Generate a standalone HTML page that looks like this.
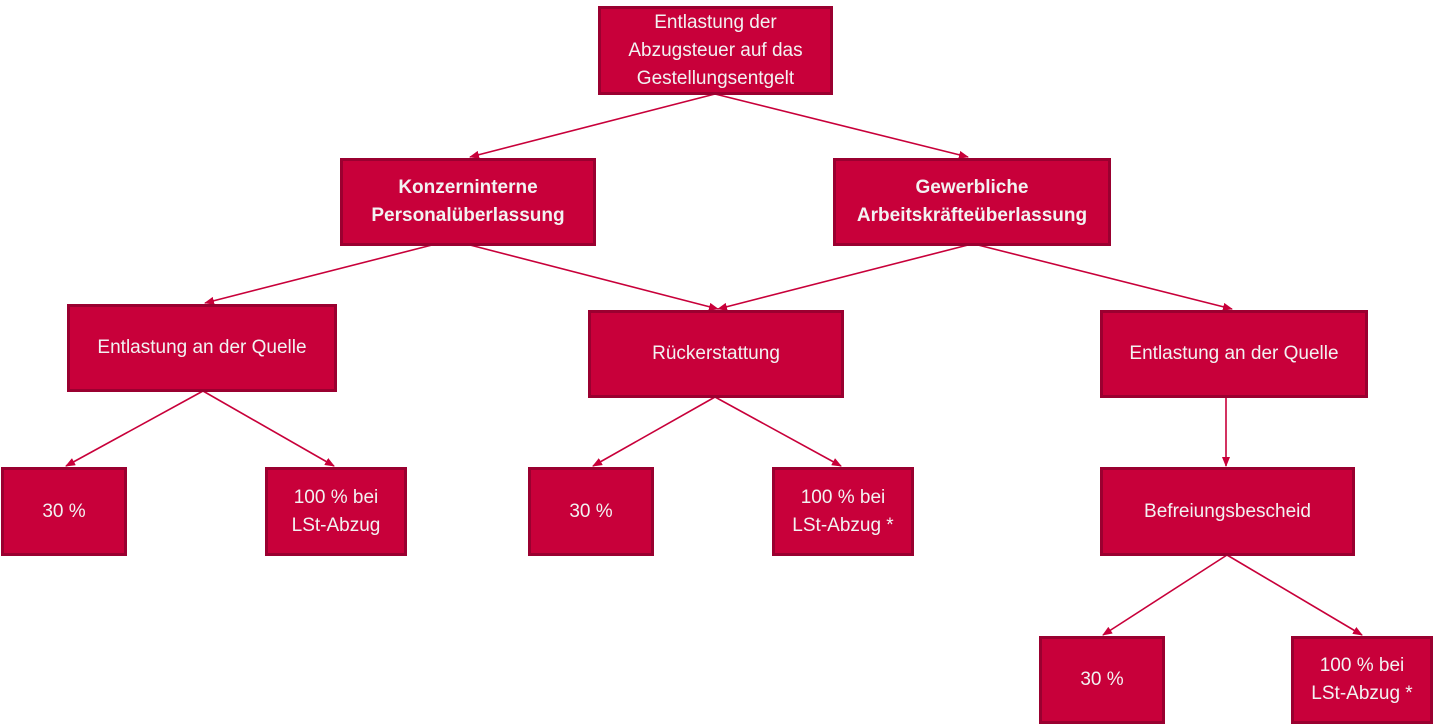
<!DOCTYPE html>
<html><head><meta charset="utf-8"><style>
body{margin:0;width:1433px;height:725px;background:#fff;position:relative;overflow:hidden;font-family:"Liberation Sans",sans-serif}
.b{position:absolute;box-sizing:border-box;background:#C8003A;border:3px solid #9A0030;color:#f2f2f2;display:flex;align-items:center;justify-content:center;text-align:center;font-size:19px;line-height:28px}
.bold{font-weight:bold}
svg{position:absolute;left:0;top:0}
</style></head><body>
<svg width="1433" height="725">
<defs><marker id="a" markerWidth="10" markerHeight="8" refX="9" refY="4" orient="auto" markerUnits="userSpaceOnUse"><path d="M0,0 L10,4 L0,8 z" fill="#C8003A"/></marker></defs>
<g stroke="#C8003A" stroke-width="1.6" marker-end="url(#a)">
<line x1="715" y1="94" x2="470" y2="157"/>
<line x1="715" y1="94" x2="968" y2="157"/>
<line x1="432" y1="245" x2="205" y2="303"/>
<line x1="470" y1="245" x2="718" y2="309"/>
<line x1="968" y1="245" x2="718" y2="309"/>
<line x1="978" y1="245" x2="1232" y2="309"/>
<line x1="203" y1="391" x2="66" y2="466"/>
<line x1="203" y1="391" x2="334" y2="466"/>
<line x1="715" y1="397" x2="593" y2="466"/>
<line x1="715" y1="397" x2="841" y2="466"/>
<line x1="1226" y1="397" x2="1226" y2="466"/>
<line x1="1227" y1="555" x2="1103" y2="635"/>
<line x1="1227" y1="555" x2="1362" y2="635"/>
</g></svg>
<div class="b" style="left:598px;top:6px;width:235px;height:89px">Entlastung der<br>Abzugsteuer auf das<br>Gestellungsentgelt</div>
<div class="b bold" style="left:340px;top:158px;width:256px;height:88px">Konzerninterne<br>Personalüberlassung</div>
<div class="b bold" style="left:833px;top:158px;width:278px;height:88px">Gewerbliche<br>Arbeitskräfteüberlassung</div>
<div class="b" style="left:67px;top:304px;width:270px;height:88px">Entlastung an der Quelle</div>
<div class="b" style="left:588px;top:310px;width:256px;height:88px">Rückerstattung</div>
<div class="b" style="left:1100px;top:310px;width:268px;height:88px">Entlastung an der Quelle</div>
<div class="b" style="left:1px;top:467px;width:126px;height:89px">30 %</div>
<div class="b" style="left:265px;top:467px;width:142px;height:89px">100 % bei<br>LSt-Abzug</div>
<div class="b" style="left:528px;top:467px;width:126px;height:89px">30 %</div>
<div class="b" style="left:772px;top:467px;width:142px;height:89px">100 % bei<br>LSt-Abzug *</div>
<div class="b" style="left:1100px;top:467px;width:255px;height:89px">Befreiungsbescheid</div>
<div class="b" style="left:1039px;top:636px;width:126px;height:88px">30 %</div>
<div class="b" style="left:1291px;top:636px;width:142px;height:88px">100 % bei<br>LSt-Abzug *</div>
</body></html>
